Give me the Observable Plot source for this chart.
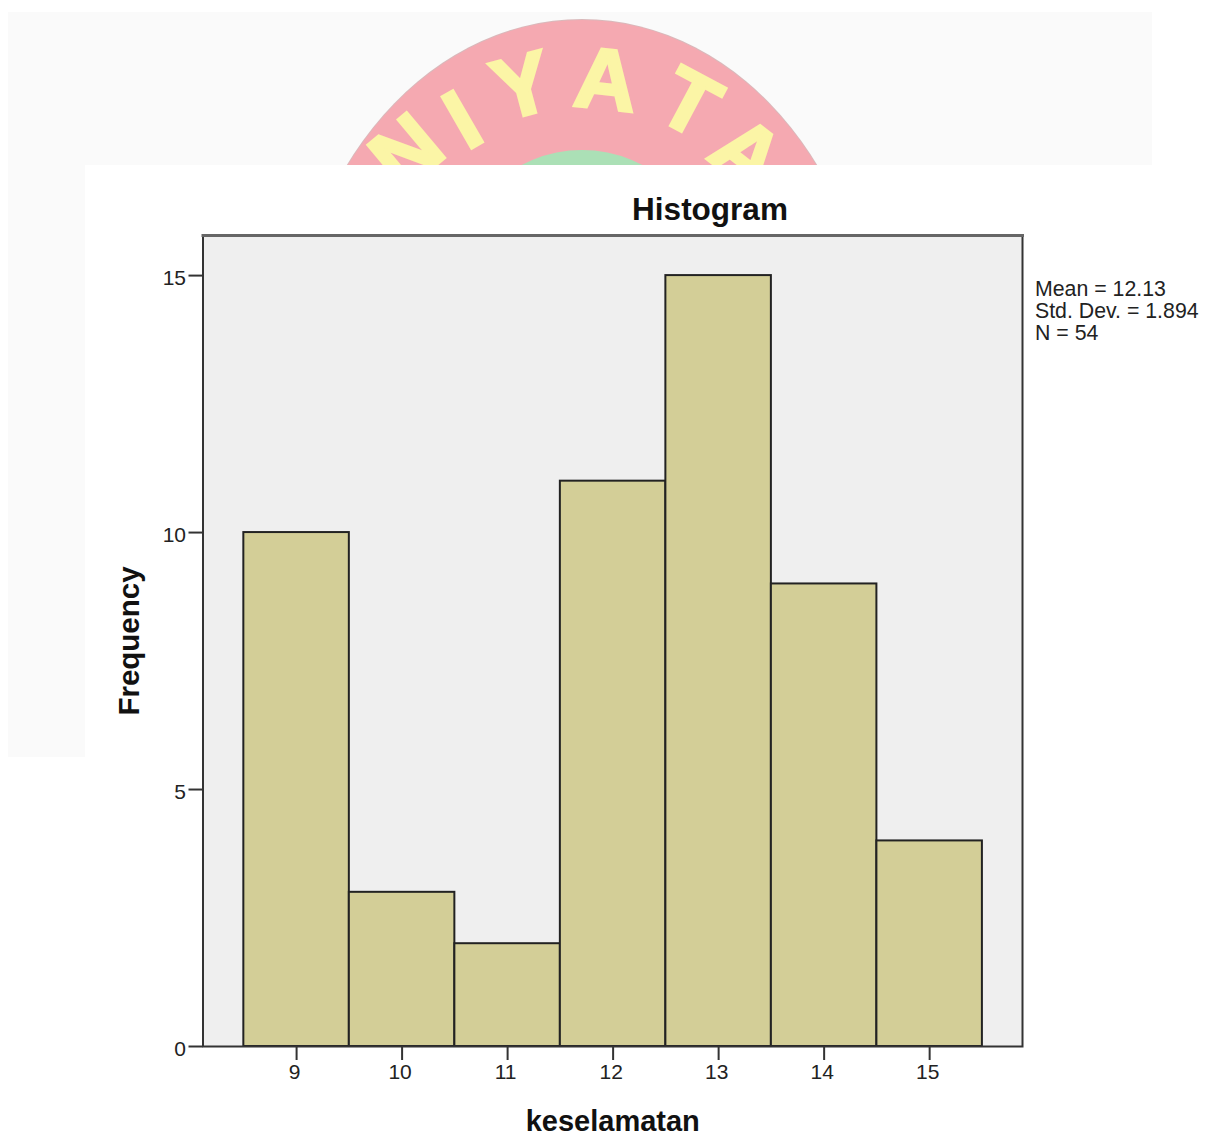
<!DOCTYPE html>
<html>
<head>
<meta charset="utf-8">
<script src="https://cdn.jsdelivr.net/npm/d3@7"></script>
<script src="https://cdn.jsdelivr.net/npm/@observablehq/plot@0.6"></script>
<style>
html,body{margin:0;padding:0;background:#fff;}
#page{position:relative;width:1207px;height:1137px;overflow:hidden;font-family:"Liberation Sans",Arial,sans-serif;}
#page>*{position:absolute;}
#wm{left:8px;top:12px;width:1144px;height:745px;background:#fafafa;overflow:hidden;}
#pink{left:279px;top:8px;width:590px;height:740px;border-radius:50%;background:#f5a9b1;box-shadow:0 0 0 1px #d9b9bb;position:absolute;}
#green{left:444px;top:138px;width:260px;height:260px;border-radius:50%;background:#abe0b6;position:absolute;}
.lt{position:absolute;color:#fbf5a6;-webkit-text-stroke:3px #fbf5a6;font-weight:bold;font-size:86px;line-height:86px;width:100px;text-align:center;transform-origin:center;}
#panel2{left:85px;top:165px;width:1122px;height:972px;background:#fff;}
#title{left:560px;top:190px;width:300px;text-align:center;font-size:31.5px;font-weight:bold;line-height:38px;color:#111;}
#stats{left:1035px;top:278px;font-size:21.3px;line-height:22px;color:#222;white-space:nowrap;}
svg{display:block;}
</style>
</head>
<body>
<div id="page">
  <div id="wm">
    <div id="pink"></div>
    <div id="green"></div>
    <div class="lt" style="left:348px;top:96px;transform:rotate(-40deg)">N</div>
    <div class="lt" style="left:404px;top:64px;transform:rotate(-30deg)">I</div>
    <div class="lt" style="left:464px;top:30px;transform:rotate(-15deg)">Y</div>
    <div class="lt" style="left:548px;top:24px;transform:rotate(6deg)">A</div>
    <div class="lt" style="left:632px;top:47px;transform:rotate(28deg)">T</div>
    <div class="lt" style="left:690px;top:98px;transform:rotate(38deg)">A</div>
  </div>
  <div id="panel2"></div>
  <div id="chart" style="left:0;top:0"></div>
  <div id="title">Histogram</div>
  <div id="stats"></div>
</div>
<script>
const scores = [9, 10, 11, 12, 13, 14, 15];
const frequencies = [10, 3, 2, 11, 15, 9, 4];
const yTicks = [0, 5, 10, 15];
const statLines = ["Mean = 12.13", "Std. Dev. = 1.894", "N = 54"];
const xLabel = "keselamatan";
const yLabel = "Frequency";

const rows = scores.map((s, i) => ({score: s, freq: frequencies[i]}));

const chart = Plot.plot({
  width: 1207,
  height: 1137,
  marginLeft: 202.5,
  marginRight: 185,
  marginTop: 235,
  marginBottom: 91,
  style: {background: "transparent", fontFamily: '"Liberation Sans", Arial, sans-serif', color: "#222"},
  x: {domain: [8.113, 15.88], axis: null},
  y: {domain: [0, 15.78], axis: null},
  marks: [
    Plot.frame({fill: "#efefef", stroke: "none"}),
    Plot.rectY(rows, {
      x1: d => d.score - 0.5,
      x2: d => d.score + 0.5,
      y: "freq",
      fill: "#d3ce97",
      stroke: "#222",
      strokeWidth: 2
    }),
    Plot.frame({stroke: "#333", strokeWidth: 2}),
    Plot.frame({anchor: "top", stroke: "#666", strokeWidth: 3}),
    Plot.axisX(scores, {
      anchor: "bottom", label: null, tickSize: 14, text: null, stroke: "#333", strokeWidth: 2
    }),
    Plot.axisX(scores, {
      anchor: "bottom", label: null, tickSize: 14, tickPadding: 4, fontSize: 21,
      stroke: "none", fill: "#222", dx: -2, tickFormat: d => String(d)
    }),
    Plot.axisY(yTicks, {
      anchor: "left", label: null, tickSize: 14, text: null, stroke: "#333", strokeWidth: 2
    }),
    Plot.axisY(yTicks, {
      anchor: "left", label: null, tickSize: 14, tickPadding: 3, fontSize: 21,
      stroke: "none", fill: "#222", dy: 3, tickFormat: d => String(d)
    }),
    Plot.text([xLabel], {
      frameAnchor: "bottom", dy: 84, fontSize: 29, fontWeight: "bold", fill: "#111"
    }),
    Plot.text([yLabel], {
      frameAnchor: "left", textAnchor: "middle", dx: -73, rotate: -90, fontSize: 29.5, fontWeight: "bold", fill: "#111"
    })
  ]
});
document.getElementById("chart").append(chart);
document.getElementById("stats").innerHTML = statLines.map(s => `<div>${s}</div>`).join("");
</script>
</body>
</html>
